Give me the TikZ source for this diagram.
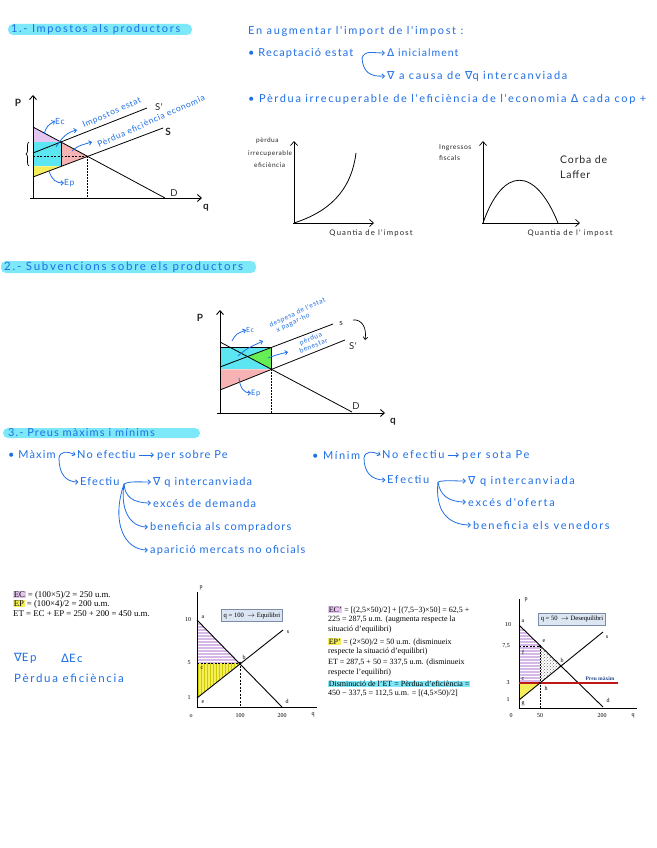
\documentclass[tikz,border=0pt]{standalone}
\usepackage{fontspec}
\setmainfont{Liberation Serif}
\newfontfamily\hwf[LetterSpace=8]{Lato}
\newfontfamily\hwA[LetterSpace=15]{Lato}
\newfontfamily\hwB[LetterSpace=10]{Lato}
\newfontfamily\symf{DejaVu Sans}
\usetikzlibrary{arrows.meta,patterns,decorations.pathreplacing}
\definecolor{hb}{HTML}{1F6FE5}
\definecolor{hl}{HTML}{7DE8F8}
\definecolor{lil}{HTML}{E4C6F0}
\definecolor{cy}{HTML}{5CE6F2}
\definecolor{pk}{HTML}{F7B3B3}
\definecolor{yl}{HTML}{F5EE5A}
\definecolor{gr}{HTML}{66EE55}
\definecolor{lil2}{HTML}{D6B8E6}
\definecolor{boxf}{HTML}{DCE6F2}
\definecolor{boxd}{HTML}{7C8CA6}
\definecolor{pmred}{HTML}{C01818}
\definecolor{pmtxt}{HTML}{2A4A8A}
\newcommand{\dlt}{{\symf Δ}}
\newcommand{\nbl}{{\symf ∇}}
\newcommand{\hlL}[1]{{\setlength{\fboxsep}{0.6pt}\colorbox{lil}{#1}}}
\newcommand{\hlY}[1]{{\setlength{\fboxsep}{0.6pt}\colorbox{yl}{#1}}}
\newcommand{\hlC}[1]{{\setlength{\fboxsep}{0.6pt}\colorbox{hl}{#1}}}
\begin{document}
\begin{tikzpicture}[x=1pt,y=-1pt,
 hand/.style={font=\hwf\fontsize{9.5}{11}\selectfont, text=hb, inner sep=0pt, anchor=west},
 handA/.style={hand, font=\hwA\fontsize{11}{13}\selectfont},
 handB/.style={hand, font=\hwB\fontsize{11}{13}\selectfont},
 handk/.style={hand, text=black!85},
 small/.style={font=\hwf\fontsize{6.5}{12.5}\selectfont, text=black!85, inner sep=0pt, align=left, anchor=west},
 qlab/.style={font=\hwA\fontsize{7.7}{9}\selectfont, text=black!85, inner sep=0pt},
 ser/.style={font=\fontsize{8}{9}\selectfont, inner sep=0pt, anchor=west},
 serL/.style={font=\fontsize{8.8}{9}\selectfont, inner sep=0pt, anchor=west},
 tinyl/.style={font=\fontsize{6}{7}\selectfont, inner sep=0pt},
 axis/.style={line width=0.9pt, -{Straight Barb[length=4pt,width=7pt]}},
 curve/.style={line width=0.8pt},
 barr/.style={hb, line width=0.8pt, -{Straight Barb[length=2.5pt,width=4.5pt]}},
 hlbar/.style={fill=hl, rounded corners=5pt},
 gax/.style={line width=0.6pt},
 qbox/.style={draw=boxd, fill=boxf, line width=0.8pt, font=\fontsize{6.6}{7}\selectfont, inner sep=2pt, minimum height=12pt},
 ]
\useasboundingbox (0,0) rectangle (656,848);
\fill[white] (0,0) rectangle (656,848);

% ================= Section 1 =================
\fill[hlbar] (8,24) rectangle (192,35);
\node[handA] (h1) at (11,29.5) {1.- Impostos als productors};

% graph 1
\coordinate (O1) at (33,198);
\coordinate (D1a) at (33,127); \coordinate (D1b) at (165,198);
\coordinate (S1a) at (33,177); \coordinate (S1b) at (163,128);
\coordinate (T1a) at (33,153); \coordinate (T1b) at (147,108);
\coordinate (E1) at (87.5,156.3); \coordinate (E1n) at (61,142);
\coordinate (F1) at (61,166.4);
\fill[lil] (D1a) -- (E1n) -- (33,142) -- cycle;
\fill[cy] (33,142) rectangle (F1);
\fill[pk] (E1n) -- (E1) -- (F1) -- cycle;
\fill[yl] (33,166.4) -- (F1) -- (S1a) -- cycle;
\draw[curve] (E1n) -- (F1);
\draw[curve] (D1a) -- (D1b);
\draw[curve] (S1a) -- (S1b);
\draw[curve] (T1a) -- (T1b);
\draw[line width=0.8pt, dash pattern=on 2pt off 1.5pt] (33,156.3) -- (E1);
\draw[line width=0.6pt, dash pattern=on 1.5pt off 1.5pt] (E1) -- (87.5,198);
\draw[axis] (O1) -- (33,95);
\draw[axis] (30,198) -- (202,198);
\draw[line width=0.7pt, decorate, decoration={brace,amplitude=3pt}] (29,166) -- (29,142);
\node[handk, anchor=center, font=\hwf\bfseries\fontsize{10}{12}\selectfont] (P1) at (18,103) {P};
\node[handk, anchor=center, font=\hwf\bfseries\fontsize{10}{12}\selectfont] (q1) at (206,208) {q};
\node[handk, anchor=center] (Sp1) at (159,107) {S'};
\node[handk, anchor=center, font=\hwf\bfseries\fontsize{10}{12}\selectfont] (Sl1) at (168,132) {S};
\node[handk, anchor=center] (Dl1) at (174,193) {D};
\node[hand, font=\hwf\fontsize{8.5}{9}\selectfont] (ec1) at (55,121) {Ec};
\draw[barr] (44,134) .. controls (47,126) .. (ec1.west);
\node[hand, anchor=center, rotate=24, font=\hwf\fontsize{8.5}{10}\selectfont] (ie1) at (112,113) {Impostos estat};
\coordinate (ie1a) at (77,130);
\draw[barr] (56,147) .. controls (62,137) and (68,132) .. (ie1a);
\node[hand, anchor=center, rotate=24, font=\hwf\fontsize{8.5}{10}\selectfont] (pe1) at (151,121) {Pèrdua eficiència economia};
\coordinate (pe1a) at (92,142);
\draw[barr] (72,151) .. controls (78,146) .. (pe1a);
\node[hand, font=\hwf\fontsize{8.5}{9}\selectfont] (ep1) at (64,183) {Ep};
\draw[barr] (49,171) .. controls (52,180) and (56,183) .. (ep1.west);

% top right text
\node[handA] (t1) at (248,31) {En augmentar l'import de l'impost :};
\node[handB] (t2) at (248,53) {• Recaptació estat};
\node[hand, font=\hwB\fontsize{10.5}{12}\selectfont] (t3) at (387,53) {\dlt\ inicialment};
\node[handA] (t4) at (387,76) {\nbl\ a causa de \nbl q intercanviada};
\node[handA] (t5) at (248,99) {• Pèrdua irrecuperable de l'eficiència de l'economia \dlt\ cada cop +};
\coordinate (r0) at (362,58);
\draw[barr] (r0) .. controls (365,50) and (372,53) .. ([xshift=-2pt]t3.west);
\draw[barr] (r0) .. controls (363,72) and (370,77) .. ([xshift=-2pt]t4.west);

% small graph A
\draw[axis, line width=0.7pt] (294,224) -- (294,141);
\draw[axis, line width=0.7pt] (293,223) -- (374,223);
\draw[curve] (294,223) .. controls (328,212) and (351,192) .. (356,153);
\node[small] (pa) at (248,153) {\hspace*{8pt}pèrdua\\irrecuperable\\\hspace*{6pt}eficiència};
\node[qlab] (qa) at (371,233) {Quantia de l'impost};
% small graph B
\draw[axis, line width=0.7pt] (483,224) -- (483,141);
\draw[axis, line width=0.7pt] (482,223) -- (580,223);
\draw[curve] (483,223) .. controls (503,166) and (535,166) .. (558,223);
\node[small, font=\hwf\fontsize{6.8}{11}\selectfont] (ib) at (439,152.5) {Ingressos\\fiscals};
\node[qlab] (qb) at (570,233) {Quantia de l' impost};
\node[handk, anchor=west, align=left, font=\hwf\fontsize{10.5}{15}\selectfont] (laf) at (560,167) {Corba de\\Laffer};

% ================= Section 2 =================
\fill[hlbar] (1,261) rectangle (256,273);
\node[hand, font=\hwA\fontsize{11.5}{13}\selectfont] (h2) at (4,267) {2.- Subvencions sobre els productors};
\coordinate (O2) at (220,413);
\coordinate (D2a) at (220,342); \coordinate (D2b) at (352,412);
\coordinate (S2a) at (220,367); \coordinate (S2b) at (333,324);
\coordinate (T2a) at (220,390); \coordinate (T2b) at (345,340);
\coordinate (E2) at (247.5,356.6); \coordinate (E2n) at (271.6,369.4);
\coordinate (G2) at (271.6,347.4);
\fill[cy] (220,347.4) rectangle (E2n);
\fill[gr] (E2) -- (G2) -- (E2n) -- cycle;
\fill[pk] (220,369.4) -- (E2n) -- (T2a) -- cycle;
\draw[curve] (G2) -- (E2n);
\draw[line width=0.6pt] (220,347.4) -- (G2);
\draw[curve] (D2a) -- (D2b);
\draw[curve] (S2a) -- (S2b);
\draw[curve] (T2a) -- (T2b);
\draw[line width=0.6pt, dash pattern=on 1.5pt off 1.5pt] (E2n) -- (271.6,413);
\draw[axis] (O2) -- (220,310);
\draw[axis] (217,413) -- (385,413);
\node[handk, anchor=center, font=\hwf\bfseries\fontsize{10}{12}\selectfont] (P2) at (200,318) {P};
\node[handk, anchor=center, font=\hwf\bfseries\fontsize{10}{12}\selectfont] (q2) at (393,422) {q};
\node[handk, anchor=center] (Dl2) at (356,406) {D};
\node[handk, anchor=center, font=\hwf\fontsize{8}{9}\selectfont] (Sl2) at (341,323) {s};
\node[handk, anchor=center] (Sp2) at (353,346) {S'};
\draw[line width=0.7pt, -{Straight Barb[length=2.5pt,width=4.5pt]}] (353,320) .. controls (362,319) and (367,328) .. (365,340);
\node[hand, font=\hwf\fontsize{7}{8}\selectfont] (ec2) at (246,330) {Ec};
\draw[barr] (232,341) .. controls (236,334) .. (ec2.west);
\node[hand, anchor=center, rotate=25, align=left, font=\hwf\fontsize{6.8}{7.5}\selectfont] (dp2) at (299,316) {despesa de l'estat\\\hspace*{4pt}x pagar-ho};
\coordinate (dp2a) at (263,341);
\draw[barr] (238,356) .. controls (246,349) .. (dp2a);
\node[hand, anchor=center, rotate=22, align=center, font=\hwf\fontsize{6.8}{7.5}\selectfont] (pb2) at (312,342) {pèrdua\\benestar};
\coordinate (pb2a) at (288,352);
\draw[barr] (268,358) .. controls (276,355) .. (pb2a);
\node[hand, font=\hwf\fontsize{7.5}{8}\selectfont] (ep2) at (251,393) {Ep};
\draw[barr] (239,378) .. controls (240,388) and (244,393) .. (ep2.west);

% ================= Section 3 =================
\fill[hlbar] (3,428) rectangle (200,438);
\node[handB] (h3) at (8,433) {3.- Preus màxims i mínims};
% maxim
\node[handB] (m0) at (8,455) {• Màxim};
\node[handB] (m1) at (77,455) {No efectiu};
\node[handB] (m2) at (157,455) {per sobre Pe};
\node[handB] (m3) at (80,482) {Efectiu};
\node[handB] (n1) at (153,482) {\nbl\ q intercanviada};
\node[handB] (n2) at (153,503) {excés de demanda};
\node[handB] (n3) at (150,527) {beneficia als compradors};
\node[handB] (n4) at (150,550) {aparició mercats no oficials};
\coordinate (mx) at (59,458);
\draw[barr] (mx) .. controls (60,451) and (67,451) .. ([xshift=-1.5pt]m1.west);
\draw[barr] (mx) .. controls (59,473) and (65,482) .. ([xshift=-1.5pt]m3.west);
\draw[barr] ([xshift=3pt]m1.east) -- ([xshift=-3pt]m2.west);
\coordinate (ef) at (124,484);
\draw[barr] (ef) .. controls (129,481) and (139,482) .. ([xshift=-2pt]n1.west);
\draw[barr] (ef) .. controls (125,497) and (133,503) .. ([xshift=-2pt]n2.west);
\draw[barr] (ef) .. controls (120,510) and (130,527) .. ([xshift=-2pt]n3.west);
\draw[barr] (ef) .. controls (111,522) and (124,550) .. ([xshift=-2pt]n4.west);
% minim
\node[handA] (r0n) at (312,455) {• Mínim};
\node[handA] (r1) at (382,455) {No efectiu};
\node[handA] (r2) at (462,455) {per sota Pe};
\node[handA] (r3) at (387,480) {Efectiu};
\node[handA] (s1) at (468,481) {\nbl\ q intercanviada};
\node[handA] (s2) at (468,502) {excés d'oferta};
\node[handA] (s3) at (473,525) {beneficia els venedors};
\coordinate (mn) at (364,458);
\draw[barr] (mn) .. controls (365,451) and (372,451) .. ([xshift=-1.5pt]r1.west);
\draw[barr] (mn) .. controls (364,472) and (371,480) .. ([xshift=-1.5pt]r3.west);
\draw[barr] ([xshift=3pt]r1.east) -- ([xshift=-3pt]r2.west);
\coordinate (ef2) at (438,482);
\draw[barr] (ef2) .. controls (443,480) and (453,481) .. ([xshift=-2pt]s1.west);
\draw[barr] (ef2) .. controls (440,495) and (448,502) .. ([xshift=-2pt]s2.west);
\draw[barr] (ef2) .. controls (435,510) and (447,525) .. ([xshift=-2pt]s3.west);

% ================= bottom left text =================
\node[serL] (e1) at (13,595) {\hlL{EC} = (100×5)/2 = 250 u.m.};
\node[serL] (e2) at (13,604.5) {\hlY{EP} = (100×4)/2 = 200 u.m.};
\node[serL] (e3) at (13,614) {ET = EC + EP = 250 + 200 = 450 u.m.};
\node[hand, font=\hwA\fontsize{11.5}{13}\selectfont] (b1) at (14,658) {\nbl Ep};
\node[hand, font=\hwA\fontsize{11.5}{13}\selectfont] (b1b) at (61,658) {\dlt Ec};
\node[hand, font=\hwA\fontsize{11.5}{13}\selectfont] (b2) at (14,678) {Pèrdua eficiència};

% ================= bottom graph 1 =================
\coordinate (Og) at (197,707);
\coordinate (ga) at (197,620); \coordinate (gd) at (282,707);
\coordinate (ge) at (197,698); \coordinate (gs) at (283,630);
\coordinate (gb) at (240,663); \coordinate (gc) at (197,663);
\fill[lil2] (ga) -- (gb) -- (gc) -- cycle;
\fill[pattern=horizontal lines, pattern color=white] (ga) -- (gb) -- (gc) -- cycle;
\fill[yl] (gc) -- (gb) -- (ge) -- cycle;
\fill[pattern=vertical lines, pattern color=yellow!60!olive] (gc) -- (gb) -- (ge) -- cycle;
\draw[gax] (197,592) -- (Og) -- (317,707);
\draw[line width=0.9pt] (ga) -- (gd);
\draw[line width=0.9pt] (ge) -- (gs);
\draw[line width=0.7pt, dash pattern=on 2pt off 1.5pt] (gc) -- (gb) -- (240,707);
\fill (gb) circle (1.4pt);
\node[tinyl] (gp) at (201,588) {p};
\node[tinyl] (g10) at (188,620) {10};
\node[tinyl] (g5) at (189,663) {5};
\node[tinyl] (g1) at (189,698) {1};
\node[tinyl] (go) at (191,716) {o};
\node[tinyl] (g100) at (240,716) {100};
\node[tinyl] (g200) at (282,716) {200};
\node[tinyl] (gq) at (313,715) {q};
\node[tinyl] (gla) at (203,617) {a};
\node[tinyl] (glb) at (244,657) {b};
\node[tinyl] (glc) at (202,668) {c};
\node[tinyl] (gld) at (287,701) {d};
\node[tinyl] (gle) at (203,702) {e};
\node[tinyl] (gls) at (288,632) {s};
\node[qbox] (qb1) at (252,615.5) {q = 100 \ $\rightarrow$ Equilibri};

% ================= bottom middle text =================
\node[ser] (c1) at (328,610) {\hlL{EC'} = [(2,5×50)/2] + [(7,5−3)×50] = 62,5 +};
\node[ser] (c2) at (328,620) {225 = 287,5 u.m. (augmenta respecte la};
\node[ser] (c3) at (328,630) {situació d'equilibri)};
\node[ser] (c4) at (328,642) {\hlY{EP'} = (2×50)/2 = 50 u.m. (disminueix};
\node[ser] (c5) at (328,652) {respecte la situació d'equilibri)};
\node[ser] (c6) at (328,663) {ET = 287,5 + 50 = 337,5 u.m. (disminueix};
\node[ser] (c7) at (328,673) {respecte l'equilibri)};
\node[ser] (c8) at (328,684) {\hlC{Disminució de l'ET = Pèrdua d'eficiència =}};
\node[ser] (c9) at (328,694) {450 − 337,5 = 112,5 u.m. = [(4,5×50)/2]};

% ================= bottom graph 2 =================
\coordinate (Oh) at (519,708);
\coordinate (ha) at (519,625); \coordinate (hd) at (603,707);
\coordinate (hg) at (519,700); \coordinate (hs) at (603,632);
\coordinate (he) at (540,646); \coordinate (hb2) at (561,666);
\coordinate (hh) at (540,683); \coordinate (hf) at (519,646); \coordinate (hc) at (519,683);
\fill[lil2] (ha) -- (he) -- (hh) -- (hc) -- cycle;
\fill[pattern=horizontal lines, pattern color=white] (ha) -- (he) -- (hh) -- (hc) -- cycle;
\fill[yl] (hc) -- (hh) -- (hg) -- cycle;
\fill[pattern=crosshatch dots, pattern color=black!60] (he) -- (hb2) -- (hh) -- cycle;
\draw[gax] (519,599) -- (Oh) -- (637,708);
\draw[line width=0.9pt] (ha) -- (hd);
\draw[line width=0.9pt] (hg) -- (hs);
\draw[line width=0.7pt, dash pattern=on 2pt off 1.5pt] (hf) -- (he);
\draw[line width=0.6pt, dash pattern=on 1.5pt off 1.5pt] (he) -- (540,708);
\draw[pmred, line width=1.1pt] (hc) -- (618,683);
\fill (he) circle (1.3pt); \fill (hb2) circle (1.3pt); \fill (hh) circle (1.3pt);
\node[tinyl] (hp) at (526,600) {p};
\node[tinyl] (h10) at (508,625) {10};
\node[tinyl] (h75) at (506,646) {7,5};
\node[tinyl] (h3) at (508,683) {3};
\node[tinyl] (h1) at (508,700) {1};
\node[tinyl] (h0) at (511,716) {0};
\node[tinyl] (h50) at (540,716) {50};
\node[tinyl] (h200) at (602,716) {200};
\node[tinyl] (hq) at (633,716) {q};
\node[tinyl] (hla) at (523,621) {a};
\node[tinyl] (hle) at (544,641) {e};
\node[tinyl] (hlf) at (523,652) {f};
\node[tinyl] (hlb) at (562,660) {b};
\node[tinyl] (hlc) at (523,679) {c};
\node[tinyl] (hlh) at (546,688) {h};
\node[tinyl] (hlg) at (523,704) {g};
\node[tinyl] (hld) at (608,700) {d};
\node[tinyl] (hls) at (607,637) {s};
\node[tinyl, text=pmtxt, font=\bfseries\fontsize{5.5}{6}\selectfont] (pm) at (600,679) {Preu màxim};
\node[qbox] (qb2) at (572,619) {q = 50 \ $\rightarrow$ Desequilibri};
\end{tikzpicture}
\end{document}
